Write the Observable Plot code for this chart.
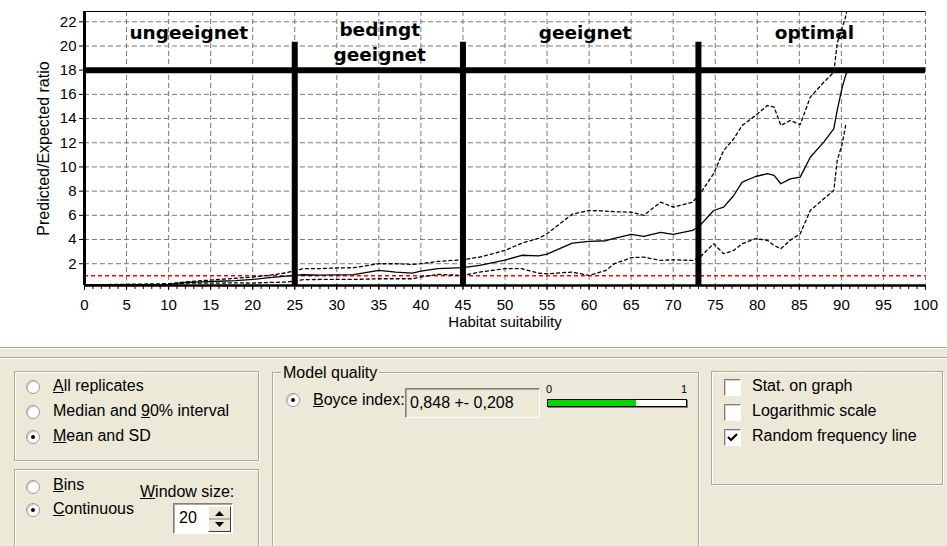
<!DOCTYPE html>
<html>
<head>
<meta charset="utf-8">
<script src="https://cdn.jsdelivr.net/npm/d3@7"></script>
<script src="https://cdn.jsdelivr.net/npm/@observablehq/plot@0.6"></script>
<style>
  html, body { margin:0; padding:0; background:#fff; }
  #root { position:relative; width:947px; height:546px; overflow:hidden; font-family:"Liberation Sans", Arial, sans-serif; }
  #chart { position:absolute; left:0; top:0; width:947px; height:347px; background:#fff; }
  #panel { position:absolute; left:0; top:347px; width:947px; height:199px; background:#ECE9D8; }
  .abs { position:absolute; }
  .hl { position:absolute; left:0; width:947px; height:1px; }
  .grp { position:absolute; border:1px solid #aca899; box-shadow: inset 1px 1px 0 #fff, 1px 1px 0 #fff; }
  .lbl { position:absolute; font-size:16px; color:#000; line-height:18px; white-space:nowrap; }
  .radio { position:absolute; width:12px; height:12px; border-radius:50%; background:#fff;
           border:1px solid #9a9a9a; box-shadow: inset 1px 1px 0 #c8c8c8; }
  .radio.on::after { content:""; position:absolute; left:4px; top:4px; width:4px; height:4px; border-radius:50%; background:#000; }
  .chk { position:absolute; width:15px; height:15px; background:#fff; border:1px solid; border-color:#808080 #fff #fff #808080; box-shadow: inset 1px 1px 0 #d4d0c8; }
  .sunken { position:absolute; border:1px solid; border-color:#808080 #fff #fff #808080; box-shadow: inset 1px 1px 0 #aca899; }
</style>
</head>
<body>
<div id="root">
  <div id="chart"></div>
  <div id="panel"></div>
</div>
<script>
// ---------- data ----------
const suitability = [0, 10, 12, 14, 16, 18, 20, 22, 24, 26, 28, 30, 32, 35, 37, 39, 40, 42, 45, 47, 50, 52, 54, 55, 58, 60, 62, 63, 65, 66.5, 68.5, 70, 72.3, 73.2, 74.8, 76, 77.2, 78.2, 79.8, 81.2, 82, 82.8, 83.9, 85.1, 86.3, 87.9, 89.1, 89.5, 90.1, 90.5, 90.8];
const meanRatio  = [0.25, 0.3, 0.45, 0.5, 0.55, 0.6, 0.7, 0.85, 0.98, 1.09, 1.05, 1.08, 1.1, 1.45, 1.3, 1.22, 1.39, 1.59, 1.67, 1.86, 2.3, 2.7, 2.65, 2.8, 3.7, 3.84, 3.9, 4.1, 4.42, 4.26, 4.6, 4.42, 4.75, 5.17, 6.4, 6.68, 7.64, 8.74, 9.21, 9.44, 9.3, 8.61, 9.02, 9.16, 10.8, 12.05, 13.16, 14.67, 16.6, 17.56, 18.1];
const upperRatio = [0.25, 0.35, 0.5, 0.6, 0.7, 0.8, 0.9, 1.05, 1.25, 1.59, 1.6, 1.65, 1.67, 2.0, 2.0, 1.94, 2.0, 2.19, 2.33, 2.55, 3.1, 3.7, 4.1, 4.48, 6.1, 6.4, 6.35, 6.3, 6.26, 6.0, 7.09, 6.68, 7.09, 7.79, 9.44, 11.36, 12.33, 13.43, 14.26, 15.08, 14.94, 13.43, 13.84, 13.5, 15.77, 17.0, 17.83, 20.2, 21.55, 22.4, 23.5];
const lowerRatio = [0.25, 0.25, 0.4, 0.4, 0.4, 0.42, 0.4, 0.45, 0.48, 0.68, 0.7, 0.7, 0.7, 0.76, 0.76, 0.76, 0.9, 1.12, 1.03, 1.31, 1.59, 1.59, 1.22, 1.17, 1.31, 1.03, 1.45, 2.0, 2.5, 2.55, 2.27, 2.33, 2.27, 2.55, 3.65, 2.83, 3.1, 3.65, 4.07, 3.93, 3.51, 3.24, 3.93, 4.48, 6.4, 7.37, 8.06, 10.54, 11.92, 13.43, NaN];
const randomLine = [1];
const classBreaks = [25, 45, 73];
const classThreshold = [18];
const classLabels = [
  {text: "ungeeignet", x: 12.4, y: 21.05},
  {text: "bedingt", x: 35.1, y: 21.3},
  {text: "geeignet", x: 35.1, y: 19.25},
  {text: "geeignet", x: 59.5, y: 21.05},
  {text: "optimal", x: 86.8, y: 21.05}
];
const xTicks = d3.range(0, 101, 5);
const xMinorTicks = d3.range(0, 101, 1);
const yTicks = d3.range(2, 23, 2);
const yDomain = [0.2, 22.85];
const xDomain = [0, 100];
const boyceText = "0,848 +- 0,208";
const boyceBar = 0.636;
const windowSize = "20";

// ---------- chart ----------
const rows = suitability.map((x, i) => ({x, mean: meanRatio[i], upper: upperRatio[i], lower: lowerRatio[i]}));

const chart = Plot.plot({
  width: 947, height: 347,
  marginLeft: 84, marginRight: 22, marginTop: 11, marginBottom: 62,
  x: {domain: xDomain},
  y: {domain: yDomain},
  style: {fontFamily: "'Liberation Sans', Arial, sans-serif", fontSize: "15px", color: "#000", background: "#fff"},
  marks: [
    Plot.gridX(xTicks, {stroke: "#7a7a7a", strokeOpacity: 1, strokeDasharray: "5,3"}),
    Plot.gridY(yTicks, {stroke: "#7a7a7a", strokeOpacity: 1, strokeDasharray: "5,3"}),
    Plot.ruleY(randomLine, {stroke: "#ff0000", strokeWidth: 1.5, strokeDasharray: "4,3"}),
    Plot.line(rows, {x: "x", y: "upper", stroke: "#000", strokeWidth: 1.3, strokeDasharray: "3,3", clip: true}),
    Plot.line(rows, {x: "x", y: "lower", stroke: "#000", strokeWidth: 1.3, strokeDasharray: "3,3", clip: true}),
    Plot.line(rows, {x: "x", y: "mean", stroke: "#000", strokeWidth: 1.3, clip: true}),
    Plot.ruleY(classThreshold, {stroke: "#000", strokeWidth: 6}),
    Plot.ruleX(classBreaks, {y1: yDomain[0], y2: 20.3, stroke: "#000", strokeWidth: 6}),
    Plot.ruleY([yDomain[1]], {stroke: "#000", strokeWidth: 1.2}),
    Plot.axisX({ticks: xMinorTicks, tickSize: 4, tickFormat: () => "", label: null}),
    Plot.axisX({ticks: xTicks, tickSize: 5, tickPadding: 9, label: null, fontSize: 15}),
    Plot.axisY({ticks: yTicks, tickSize: 5, tickPadding: 3, label: null, fontSize: 15}),
    Plot.ruleX([xDomain[0]], {stroke: "#000", strokeWidth: 3}),
    Plot.ruleY([yDomain[0]], {stroke: "#000", strokeWidth: 2.5}),
    Plot.text(classLabels, {x: "x", y: "y", text: "text", fontSize: 18.5, fontWeight: "bold",
      fontFamily: "'DejaVu Sans', Verdana, sans-serif", fill: "#000"}),
    Plot.text(["Habitat suitability"], {frameAnchor: "bottom", dy: 41, fontSize: 15}),
    Plot.text(["Predicted/Expected ratio"], {frameAnchor: "left", textAnchor: "middle", dx: -41, rotate: -90, fontSize: 16})
  ]
});
document.getElementById("chart").appendChild(chart);

// ---------- control panel (UI chrome) ----------
const panel = document.getElementById("panel");
function el(cls, style, html) {
  const d = document.createElement("div");
  d.className = cls;
  Object.assign(d.style, style);
  if (html != null) d.innerHTML = html;
  panel.appendChild(d);
  return d;
}
const T = 347; // panel top offset
// separator lines
el("hl", {top: "0px", background: "#aca899"});
el("hl", {top: "1px", background: "#fff"});
el("hl", {top: (357 - T) + "px", background: "#aca899"});
el("hl", {top: (358 - T) + "px", background: "#fff"});

// group boxes
el("grp", {left: "14px", top: (371 - T) + "px", width: "243px", height: "88px"});
el("grp", {left: "14px", top: (469 - T) + "px", width: "243px", height: "100px"});
el("grp", {left: "272px", top: (372 - T) + "px", width: "425px", height: "190px"});
el("grp", {left: "711px", top: (371 - T) + "px", width: "230px", height: "112px"});

function radio(cx, cy, on) { el("radio" + (on ? " on" : ""), {left: (cx - 7) + "px", top: (cy - 7 - T) + "px"}); }
function label(x, cy, html, extra) { el("lbl", Object.assign({left: x + "px", top: (cy - 9 - T) + "px"}, extra || {}), html); }

radio(33, 387, false); label(53, 386, "<u>A</u>ll replicates");
radio(33, 412, false); label(53, 411, "Median and <u>9</u>0% interval");
radio(33, 437, true);  label(53, 436, "<u>M</u>ean and SD");

radio(33, 487, false); label(53, 485, "<u>B</u>ins");
radio(33, 510, true);  label(53, 509, "<u>C</u>ontinuous");
label(140, 492, "<u>W</u>indow size:");
el("sunken", {left: "173px", top: (503 - T) + "px", width: "58px", height: "29px", background: "#fff"});
label(179, 518, windowSize);
// spin buttons
const spin = el("abs", {left: "208px", top: (506 - T) + "px", width: "21px", height: "24px", background: "#ECE9D8",
  borderTop: "1px solid #fff", borderLeft: "1px solid #fff", borderRight: "1px solid #404040", borderBottom: "1px solid #404040"});
spin.innerHTML = '<svg width="21" height="24" style="position:absolute;left:0;top:0"><line x1="0" y1="12" x2="21" y2="12" stroke="#808080"/><path d="M6 9 L15 9 L10.5 4 Z" fill="#000"/><path d="M6 15 L15 15 L10.5 20 Z" fill="#000"/></svg>';

// model quality
label(281, 373, "Model quality", {background: "#ECE9D8", padding: "0 2px"});
radio(293, 400, true); label(313, 400, "<u>B</u>oyce index:");
el("sunken", {left: "405px", top: (388 - T) + "px", width: "133px", height: "28px", background: "#ECE9D8"});
label(410, 403, boyceText);
el("lbl", {left: "546px", top: (383 - T) + "px", fontSize: "11px", lineHeight: "12px"}, "0");
el("lbl", {left: "681px", top: (383 - T) + "px", fontSize: "11px", lineHeight: "12px"}, "1");
const bar = el("abs", {left: "547px", top: (399 - T) + "px", width: "138px", height: "6px", background: "#fff",
  border: "1px solid #000", boxShadow: "1px 1px 0 #808080"});
const fill = document.createElement("div");
Object.assign(fill.style, {position: "absolute", left: "0", top: "0", height: "6px", width: (boyceBar * 138) + "px", background: "#00d800"});
bar.appendChild(fill);

// checkboxes
function chk(x, cy, on) {
  const c = el("chk", {left: x + "px", top: (cy - 8 - T) + "px"});
  if (on) c.innerHTML = '<svg width="15" height="15" style="position:absolute;left:0;top:0"><path d="M3 7 L6 10 L12 4" fill="none" stroke="#000" stroke-width="2.2"/></svg>';
}
chk(724, 387, false); label(752, 386, "Stat. on graph");
chk(724, 412, false); label(752, 411, "Logarithmic scale");
chk(724, 437, true);  label(752, 436, "Random frequency line");
</script>
</body>
</html>
